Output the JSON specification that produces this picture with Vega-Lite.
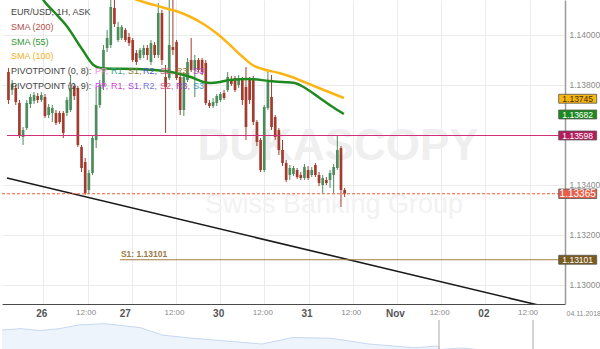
{
"$schema":"https://vega.github.io/schema/vega-lite/v6.json",
"padding":0,
"background":"#ffffff",
"spacing":1,
"config":{"font":"Liberation Sans","view":{"stroke":null}},
"datasets":{
"candles":[
{"i":0,"o":1.13852,"h":1.13868,"l":1.13724,"c":1.13740},
{"i":1,"o":1.13780,"h":1.13820,"l":1.13760,"c":1.13804},
{"i":2,"o":1.13788,"h":1.13800,"l":1.13720,"c":1.13732},
{"i":3,"o":1.13728,"h":1.13740,"l":1.13588,"c":1.13600},
{"i":4,"o":1.13592,"h":1.13632,"l":1.13560,"c":1.13620},
{"i":5,"o":1.13628,"h":1.13740,"l":1.13620,"c":1.13728},
{"i":6,"o":1.13724,"h":1.13764,"l":1.13708,"c":1.13752},
{"i":7,"o":1.13736,"h":1.13772,"l":1.13724,"c":1.13760},
{"i":8,"o":1.13756,"h":1.13768,"l":1.13728,"c":1.13740},
{"i":9,"o":1.13740,"h":1.13772,"l":1.13732,"c":1.13760},
{"i":10,"o":1.13752,"h":1.13764,"l":1.13668,"c":1.13676},
{"i":11,"o":1.13680,"h":1.13724,"l":1.13668,"c":1.13712},
{"i":12,"o":1.13688,"h":1.13720,"l":1.13652,"c":1.13708},
{"i":13,"o":1.13688,"h":1.13700,"l":1.13640,"c":1.13648},
{"i":14,"o":1.13688,"h":1.13696,"l":1.13644,"c":1.13652},
{"i":15,"o":1.13688,"h":1.13696,"l":1.13588,"c":1.13608},
{"i":16,"o":1.13688,"h":1.13752,"l":1.13676,"c":1.13740},
{"i":17,"o":1.13700,"h":1.13840,"l":1.13692,"c":1.13788},
{"i":18,"o":1.13796,"h":1.13804,"l":1.13740,"c":1.13756},
{"i":19,"o":1.13788,"h":1.13796,"l":1.13552,"c":1.13560},
{"i":20,"o":1.13552,"h":1.13560,"l":1.13452,"c":1.13468},
{"i":21,"o":1.13492,"h":1.13508,"l":1.13360,"c":1.13368},
{"i":22,"o":1.13380,"h":1.13460,"l":1.13364,"c":1.13448},
{"i":23,"o":1.13448,"h":1.13600,"l":1.13440,"c":1.13588},
{"i":24,"o":1.13580,"h":1.13792,"l":1.13548,"c":1.13720},
{"i":25,"o":1.13720,"h":1.13820,"l":1.13708,"c":1.13800},
{"i":26,"o":1.13796,"h":1.13960,"l":1.13780,"c":1.13940},
{"i":27,"o":1.13948,"h":1.14020,"l":1.13932,"c":1.13988},
{"i":28,"o":1.13960,"h":1.14172,"l":1.13948,"c":1.14112},
{"i":29,"o":1.14108,"h":1.14156,"l":1.14032,"c":1.14044},
{"i":30,"o":1.13980,"h":1.14052,"l":1.13972,"c":1.14032},
{"i":31,"o":1.13988,"h":1.14040,"l":1.13980,"c":1.14032},
{"i":32,"o":1.14020,"h":1.14028,"l":1.13972,"c":1.13980},
{"i":33,"o":1.13992,"h":1.14008,"l":1.13956,"c":1.13968},
{"i":34,"o":1.13980,"h":1.13988,"l":1.13892,"c":1.13900},
{"i":35,"o":1.13928,"h":1.13940,"l":1.13880,"c":1.13892},
{"i":36,"o":1.13908,"h":1.13948,"l":1.13900,"c":1.13940},
{"i":37,"o":1.13920,"h":1.13960,"l":1.13908,"c":1.13948},
{"i":38,"o":1.13948,"h":1.13960,"l":1.13900,"c":1.13920},
{"i":39,"o":1.13892,"h":1.13980,"l":1.13880,"c":1.13968},
{"i":40,"o":1.13960,"h":1.13972,"l":1.13908,"c":1.13920},
{"i":41,"o":1.13920,"h":1.14128,"l":1.13908,"c":1.14088},
{"i":42,"o":1.14088,"h":1.14100,"l":1.13880,"c":1.13900},
{"i":43,"o":1.13832,"h":1.13880,"l":1.13608,"c":1.13792},
{"i":44,"o":1.13828,"h":1.14160,"l":1.13820,"c":1.13960},
{"i":45,"o":1.13952,"h":1.14160,"l":1.13920,"c":1.13940},
{"i":46,"o":1.13972,"h":1.13980,"l":1.13820,"c":1.13828},
{"i":47,"o":1.13832,"h":1.13840,"l":1.13680,"c":1.13700},
{"i":48,"o":1.13700,"h":1.13852,"l":1.13676,"c":1.13832},
{"i":49,"o":1.13820,"h":1.13908,"l":1.13812,"c":1.13892},
{"i":50,"o":1.13900,"h":1.13988,"l":1.13852,"c":1.13860},
{"i":51,"o":1.13860,"h":1.13920,"l":1.13752,"c":1.13900},
{"i":52,"o":1.13900,"h":1.13908,"l":1.13852,"c":1.13860},
{"i":53,"o":1.13900,"h":1.13908,"l":1.13840,"c":1.13852},
{"i":54,"o":1.13888,"h":1.13900,"l":1.13720,"c":1.13728},
{"i":55,"o":1.13728,"h":1.13740,"l":1.13708,"c":1.13716},
{"i":56,"o":1.13716,"h":1.13748,"l":1.13708,"c":1.13732},
{"i":57,"o":1.13728,"h":1.13764,"l":1.13716,"c":1.13756},
{"i":58,"o":1.13740,"h":1.13772,"l":1.13732,"c":1.13764},
{"i":59,"o":1.13768,"h":1.13780,"l":1.13740,"c":1.13748},
{"i":60,"o":1.13780,"h":1.13852,"l":1.13772,"c":1.13832},
{"i":61,"o":1.13820,"h":1.13836,"l":1.13796,"c":1.13804},
{"i":62,"o":1.13828,"h":1.13836,"l":1.13772,"c":1.13780},
{"i":63,"o":1.13800,"h":1.13840,"l":1.13788,"c":1.13828},
{"i":64,"o":1.13820,"h":1.13832,"l":1.13720,"c":1.13740},
{"i":65,"o":1.13792,"h":1.13872,"l":1.13580,"c":1.13632},
{"i":66,"o":1.13820,"h":1.13832,"l":1.13724,"c":1.13740},
{"i":67,"o":1.13828,"h":1.13836,"l":1.13640,"c":1.13652},
{"i":68,"o":1.13652,"h":1.13660,"l":1.13556,"c":1.13572},
{"i":69,"o":1.13580,"h":1.13588,"l":1.13452,"c":1.13460},
{"i":70,"o":1.13460,"h":1.13720,"l":1.13452,"c":1.13712},
{"i":71,"o":1.13708,"h":1.13852,"l":1.13700,"c":1.13812},
{"i":72,"o":1.13752,"h":1.13840,"l":1.13620,"c":1.13632},
{"i":73,"o":1.13672,"h":1.13680,"l":1.13580,"c":1.13592},
{"i":74,"o":1.13620,"h":1.13628,"l":1.13520,"c":1.13540},
{"i":75,"o":1.13540,"h":1.13580,"l":1.13476,"c":1.13488},
{"i":76,"o":1.13488,"h":1.13500,"l":1.13412,"c":1.13420},
{"i":77,"o":1.13440,"h":1.13480,"l":1.13420,"c":1.13468},
{"i":78,"o":1.13444,"h":1.13476,"l":1.13436,"c":1.13468},
{"i":79,"o":1.13460,"h":1.13468,"l":1.13424,"c":1.13432},
{"i":80,"o":1.13440,"h":1.13452,"l":1.13420,"c":1.13428},
{"i":81,"o":1.13428,"h":1.13484,"l":1.13420,"c":1.13472},
{"i":82,"o":1.13460,"h":1.13476,"l":1.13420,"c":1.13428},
{"i":83,"o":1.13440,"h":1.13472,"l":1.13432,"c":1.13460},
{"i":84,"o":1.13480,"h":1.13488,"l":1.13432,"c":1.13440},
{"i":85,"o":1.13440,"h":1.13452,"l":1.13396,"c":1.13408},
{"i":86,"o":1.13400,"h":1.13440,"l":1.13368,"c":1.13428},
{"i":87,"o":1.13420,"h":1.13432,"l":1.13400,"c":1.13408},
{"i":88,"o":1.13420,"h":1.13460,"l":1.13388,"c":1.13448},
{"i":89,"o":1.13440,"h":1.13484,"l":1.13368,"c":1.13472},
{"i":90,"o":1.13468,"h":1.13600,"l":1.13460,"c":1.13540},
{"i":91,"o":1.13548,"h":1.13556,"l":1.13312,"c":1.13380},
{"i":92,"o":1.13380,"h":1.13388,"l":1.13352,"c":1.13365}
],
"levels":[
{"k":"sma100","v":1.13745},
{"k":"sma55","v":1.13682},
{"k":"pivot","v":1.13598},
{"k":"cur","v":1.13365},
{"k":"s1","v":1.13101,"from":30.5}
]
},
"vconcat":[
{
"width":563,"height":304,
"layer":[
{"data":{"values":[{"t":"DUKASCOPY"}]},
 "mark":{"type":"text","fontWeight":"bold","fontSize":44,"color":"#efefef","align":"center","baseline":"middle"},
 "encoding":{"text":{"field":"t"},
  "x":{"datum":90.2,"type":"quantitative"},
  "y":{"datum":1.13552,"type":"quantitative"}}},
{"data":{"values":[{"t":"Swiss Banking Group"}]},
 "mark":{"type":"text","fontSize":27,"color":"#f2f2f2","align":"center","baseline":"middle"},
 "encoding":{"text":{"field":"t"},
  "x":{"datum":89.1,"type":"quantitative"},
  "y":{"datum":1.1332,"type":"quantitative"}}},
{"data":{"name":"candles"},
 "mark":{"type":"rule","strokeWidth":1,"clip":true},
 "encoding":{
  "x":{"field":"i","type":"quantitative","scale":{"domain":[-0.4,150.94],"nice":false,"zero":false},
   "axis":{"title":"04.11.2018","titleX":564,"titleY":9,"titleAlign":"left","titleBaseline":"middle","titleFontSize":7,"titleFontWeight":"normal","titleColor":"#8a8a8a","titleFont":"Liberation Sans","zindex":0,
    "values":[9.55,21.65,33.74,45.84,57.94,70.03,82.13,94.23,106.33,118.42,130.52,142.61],
    "labelExpr":"['26','12:00','27','12:00','30','12:00','31','12:00','Nov','12:00','02','12:00'][round((datum.value-9.55)/12.096)]",
    "grid":true,"gridColor":"#ececec","gridWidth":1,"ticks":false,"domain":true,"domainColor":"#4a4a4a","domainWidth":1,
    "labelPadding":4,"labelFlush":false,"labelOverlap":false,"labelBaseline":"top",
    "labelOffset":{"condition":{"test":"round((datum.value-9.55)/12.096)==2","value":-7},"value":-2},
    "labelFontSize":{"condition":{"test":"round((datum.value-9.55)/12.096)%2==0","value":10},"value":8},
    "labelFontWeight":{"condition":{"test":"round((datum.value-9.55)/12.096)%2==0","value":"bold"},"value":"normal"},
    "labelColor":{"condition":{"test":"round((datum.value-9.55)/12.096)%2==0","value":"#555555"},"value":"#8a8a8a"}}},
  "y":{"field":"l","type":"quantitative","scale":{"domain":[1.12924,1.1414],"nice":false,"zero":false},
   "axis":{"title":"","orient":"right","zindex":0,"values":[1.13,1.132,1.134,1.138,1.14],"format":".5f","grid":true,"gridColor":"#ececec","ticks":false,"domain":true,"domainColor":"#9a9a9a","domainWidth":1.5,"labelPadding":4,"labelFontSize":8.5,"labelColor":"#8a8a8a","labelOffset":-1}},
  "y2":{"field":"h"},
  "color":{"condition":{"test":"datum.c>=datum.o","value":"#4d8d5d"},"value":"#a23c2e"}}},
{"data":{"name":"candles"},
 "mark":{"type":"bar","size":2.7,"clip":true},
 "encoding":{
  "x":{"field":"i","type":"quantitative"},
  "y":{"field":"o","type":"quantitative"},
  "y2":{"field":"c"},
  "color":{"condition":{"test":"datum.c>=datum.o","value":"#4d8d5d"},"value":"#a23c2e"}}},
{"data":{"values":[{"u":-0.4,"p":1.13428},{"u":150.94,"p":1.12899}]},
 "mark":{"type":"line","color":"#1a1a1a","strokeWidth":1.6,"clip":true},
 "encoding":{
  "x":{"field":"u","type":"quantitative"},
  "y":{"field":"p","type":"quantitative"}}},
{"data":{"values":[
 {"u":7.66,"p":1.14188},{"u":9.55,"p":1.1414},{"u":12.5,"p":1.14092},{"u":15.73,"p":1.1404},{"u":20.3,"p":1.1394},{"u":23.26,"p":1.1388},{"u":25.14,"p":1.13868},{"u":26.48,"p":1.13866},{"u":35.35,"p":1.13864},{"u":39.92,"p":1.1386},{"u":44.49,"p":1.13852},{"u":49.87,"p":1.13832},{"u":53.36,"p":1.13812},{"u":55.25,"p":1.13808},{"u":57.93,"p":1.13812},{"u":60.62,"p":1.1382},{"u":66.0,"p":1.13824},{"u":71.37,"p":1.13816},{"u":74.87,"p":1.13812},{"u":78.36,"p":1.13808},{"u":80.25,"p":1.13796},{"u":84.81,"p":1.13752},{"u":88.31,"p":1.13716},{"u":91.8,"p":1.13684}]},
 "mark":{"type":"line","color":"#1f8a1f","strokeWidth":2.5,"clip":true,"interpolate":"monotone"},
 "encoding":{
  "x":{"field":"u","type":"quantitative"},
  "y":{"field":"p","type":"quantitative"}}},
{"data":{"values":[
 {"u":31.86,"p":1.1416},{"u":35.35,"p":1.1414},{"u":41.8,"p":1.14112},{"u":46.64,"p":1.14092},{"u":49.87,"p":1.14072},{"u":53.36,"p":1.14044},{"u":56.86,"p":1.14008},{"u":60.62,"p":1.1396},{"u":64.12,"p":1.13912},{"u":66.8,"p":1.1388},{"u":69.49,"p":1.13864},{"u":74.06,"p":1.13848},{"u":77.56,"p":1.13832},{"u":80.25,"p":1.13816},{"u":85.62,"p":1.13784},{"u":91.8,"p":1.13748}]},
 "mark":{"type":"line","color":"#fbb514","strokeWidth":2.5,"clip":true,"interpolate":"monotone"},
 "encoding":{
  "x":{"field":"u","type":"quantitative"},
  "y":{"field":"p","type":"quantitative"}}},
{"data":{"name":"levels"},"transform":[{"filter":"datum.k=='cur'"}],
 "mark":{"type":"rule","strokeWidth":1.2,"strokeDash":[3,2]},
 "encoding":{"y":{"field":"v","type":"quantitative"},"color":{"value":"#ee5a44"}}},
{"data":{"name":"levels"},"transform":[{"filter":"datum.k=='s1'"}],
 "mark":{"type":"rule","color":"#a07e42","strokeWidth":1.2},
 "encoding":{
  "x":{"field":"from","type":"quantitative"},
  "x2":{"datum":150.94},
  "y":{"field":"v","type":"quantitative"}}},
{"data":{"name":"levels"},"transform":[{"filter":"datum.k=='s1'"}],
 "mark":{"type":"text","color":"#9a7a45","fontSize":8.5,"fontWeight":"bold","align":"left","baseline":"bottom","dx":1,"dy":-1},
 "encoding":{
  "text":{"value":"S1: 1.13101"},
  "x":{"field":"from","type":"quantitative"},
  "y":{"field":"v","type":"quantitative"}}},
{"data":{"values":[{}]},"mark":{"type":"text","text":"EUR/USD, 1H, ASK","color":"#444444","align":"left","baseline":"middle","fontSize":9,"dx":4},
 "encoding":{"x":{"datum":-0.4,"type":"quantitative"},"y":{"datum":1.14092,"type":"quantitative"}}},
{"data":{"values":[{}]},"mark":{"type":"text","text":"SMA (200)","color":"#b0504a","align":"left","baseline":"middle","fontSize":9,"dx":4},
 "encoding":{"x":{"datum":-0.4,"type":"quantitative"},"y":{"datum":1.14033,"type":"quantitative"}}},
{"data":{"values":[{}]},"mark":{"type":"text","text":"SMA (55)","color":"#2e962e","align":"left","baseline":"middle","fontSize":9,"dx":4},
 "encoding":{"x":{"datum":-0.4,"type":"quantitative"},"y":{"datum":1.13974,"type":"quantitative"}}},
{"data":{"values":[{}]},"mark":{"type":"text","text":"SMA (100)","color":"#f2b21c","align":"left","baseline":"middle","fontSize":9,"dx":4},
 "encoding":{"x":{"datum":-0.4,"type":"quantitative"},"y":{"datum":1.13915,"type":"quantitative"}}},
{"data":{"values":[{}]},"mark":{"type":"text","text":"PIVOTPOINT (0, 8):","color":"#444444","align":"left","baseline":"middle","fontSize":9,"dx":4},
 "encoding":{"x":{"datum":-0.4,"type":"quantitative"},"y":{"datum":1.13856,"type":"quantitative"}}},
{"data":{"values":[{}]},"mark":{"type":"text","text":"PIVOTPOINT (0, 9):","color":"#444444","align":"left","baseline":"middle","fontSize":9,"dx":4},
 "encoding":{"x":{"datum":-0.4,"type":"quantitative"},"y":{"datum":1.13797,"type":"quantitative"}}},
{"data":{"values":[{}]},"mark":{"type":"text","text":"PP,","color":"#e58ad6","align":"left","baseline":"middle","fontSize":9,"dx":88},
 "encoding":{"x":{"datum":-0.4,"type":"quantitative"},"y":{"datum":1.13856,"type":"quantitative"}}},
{"data":{"values":[{}]},"mark":{"type":"text","text":"R1,","color":"#3aa58c","align":"left","baseline":"middle","fontSize":9,"dx":104},
 "encoding":{"x":{"datum":-0.4,"type":"quantitative"},"y":{"datum":1.13856,"type":"quantitative"}}},
{"data":{"values":[{}]},"mark":{"type":"text","text":"S1,","color":"#8c7a3e","align":"left","baseline":"middle","fontSize":9,"dx":121},
 "encoding":{"x":{"datum":-0.4,"type":"quantitative"},"y":{"datum":1.13856,"type":"quantitative"}}},
{"data":{"values":[{}]},"mark":{"type":"text","text":"R2,","color":"#4d5bc4","align":"left","baseline":"middle","fontSize":9,"dx":136},
 "encoding":{"x":{"datum":-0.4,"type":"quantitative"},"y":{"datum":1.13856,"type":"quantitative"}}},
{"data":{"values":[{}]},"mark":{"type":"text","text":"S2,","color":"#c25f8e","align":"left","baseline":"middle","fontSize":9,"dx":153},
 "encoding":{"x":{"datum":-0.4,"type":"quantitative"},"y":{"datum":1.13856,"type":"quantitative"}}},
{"data":{"values":[{}]},"mark":{"type":"text","text":"R3,","color":"#a86f2e","align":"left","baseline":"middle","fontSize":9,"dx":169},
 "encoding":{"x":{"datum":-0.4,"type":"quantitative"},"y":{"datum":1.13856,"type":"quantitative"}}},
{"data":{"values":[{}]},"mark":{"type":"text","text":"S3","color":"#c23cc4","align":"left","baseline":"middle","fontSize":9,"dx":186},
 "encoding":{"x":{"datum":-0.4,"type":"quantitative"},"y":{"datum":1.13856,"type":"quantitative"}}},
{"data":{"values":[{}]},"mark":{"type":"text","text":"PP,","color":"#dc46f0","align":"left","baseline":"middle","fontSize":9,"dx":88},
 "encoding":{"x":{"datum":-0.4,"type":"quantitative"},"y":{"datum":1.13797,"type":"quantitative"}}},
{"data":{"values":[{}]},"mark":{"type":"text","text":"R1,","color":"#d046c8","align":"left","baseline":"middle","fontSize":9,"dx":104},
 "encoding":{"x":{"datum":-0.4,"type":"quantitative"},"y":{"datum":1.13797,"type":"quantitative"}}},
{"data":{"values":[{}]},"mark":{"type":"text","text":"S1,","color":"#a046dc","align":"left","baseline":"middle","fontSize":9,"dx":121},
 "encoding":{"x":{"datum":-0.4,"type":"quantitative"},"y":{"datum":1.13797,"type":"quantitative"}}},
{"data":{"values":[{}]},"mark":{"type":"text","text":"R2,","color":"#7a74dc","align":"left","baseline":"middle","fontSize":9,"dx":136},
 "encoding":{"x":{"datum":-0.4,"type":"quantitative"},"y":{"datum":1.13797,"type":"quantitative"}}},
{"data":{"values":[{}]},"mark":{"type":"text","text":"S2,","color":"#cf5a8e","align":"left","baseline":"middle","fontSize":9,"dx":153},
 "encoding":{"x":{"datum":-0.4,"type":"quantitative"},"y":{"datum":1.13797,"type":"quantitative"}}},
{"data":{"values":[{}]},"mark":{"type":"text","text":"R3,","color":"#9a3cb4","align":"left","baseline":"middle","fontSize":9,"dx":169},
 "encoding":{"x":{"datum":-0.4,"type":"quantitative"},"y":{"datum":1.13797,"type":"quantitative"}}},
{"data":{"values":[{}]},"mark":{"type":"text","text":"S3","color":"#3a94c4","align":"left","baseline":"middle","fontSize":9,"dx":186},
 "encoding":{"x":{"datum":-0.4,"type":"quantitative"},"y":{"datum":1.13797,"type":"quantitative"}}},
{"data":{"name":"levels"},"transform":[{"filter":"datum.k=='pivot'"}],
 "mark":{"type":"rule","strokeWidth":1.2,"stroke":"#d0307a","opacity":1},
 "encoding":{"x":{"datum":-0.4,"type":"quantitative"},"x2":{"datum":150.94},"y":{"field":"v","type":"quantitative"}}},
{"data":{"name":"levels"},
 "mark":{"type":"point","filled":true,"opacity":1,"stroke":"#555555","strokeWidth":0.8,"clip":false},
 "encoding":{
  "x":{"datum":155.78,"type":"quantitative"},
  "y":{"field":"v","type":"quantitative"},
  "fill":{"field":"k","type":"nominal","scale":{"domain":["sma100","sma55","pivot","cur","s1"],"range":["#f7b512","#1e8a1e","#b31d5c","#e5604b","#7b5b1f"]},"legend":null},
  "shape":{"condition":{"test":"datum.k=='cur'","value":"M-1,-0.25L1,-0.25L1,0.25L-1,0.25Z"},"value":"M-1,-0.235L1,-0.235L1,0.235L-1,0.235Z"},
  "size":{"value":1444}}},
{"data":{"name":"levels"},
 "mark":{"type":"text","align":"center","baseline":"middle","dy":0.5,"clip":false},
 "encoding":{
  "text":{"field":"v","type":"quantitative","format":".5f"},
  "x":{"datum":155.78,"type":"quantitative"},
  "y":{"field":"v","type":"quantitative"},
  "color":{"condition":{"test":"datum.k=='sma100'","value":"#3b3000"},"value":"#ffffff"},
  "size":{"condition":{"test":"datum.k=='cur'","value":10},"value":8.5}}}
]
},
{
"width":600,"height":40,
"layer":[
{"data":{"values":[
 {"n":0,"v":30},{"n":19,"v":31.3},{"n":38,"v":29.4},{"n":57,"v":31.3},{"n":77,"v":35.1},{"n":103,"v":36.3},{"n":138,"v":32.4},{"n":161,"v":24.8},{"n":191,"v":21.7},{"n":214,"v":19.8},{"n":260,"v":16},{"n":291,"v":22.5},{"n":329,"v":21.7},{"n":367,"v":16},{"n":413,"v":12.2},{"n":436,"v":14},{"n":438,"v":10.5},{"n":460,"v":12},{"n":490,"v":9}]},
 "mark":{"type":"area","color":"#e7effb","line":{"color":"#c6d8f1","strokeWidth":1}},
 "encoding":{
  "x":{"field":"n","type":"quantitative","scale":{"domain":[0,600],"nice":false,"zero":false},"axis":null},
  "y":{"field":"v","type":"quantitative","scale":{"domain":[0,40],"nice":false,"zero":false},"axis":null}}},
{"data":{"values":[{"n":437},{"n":531}]},
 "mark":{"type":"rule","color":"#aaaaaa","strokeWidth":1},
 "encoding":{"x":{"field":"n","type":"quantitative","axis":null}}}
]
}
]
}
